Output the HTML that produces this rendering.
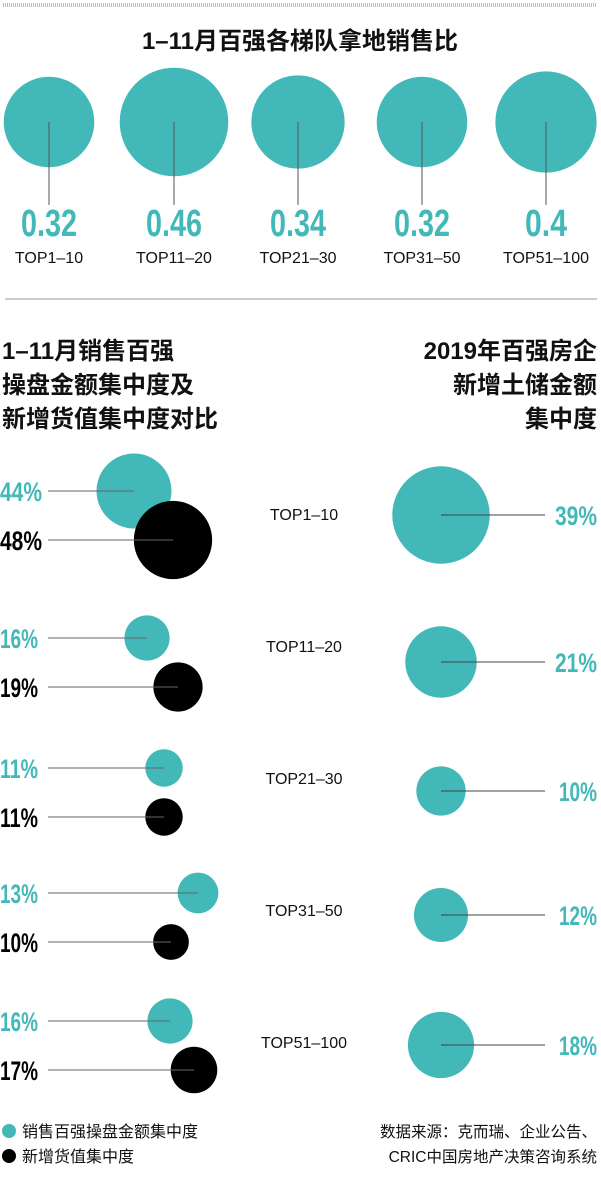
<!DOCTYPE html>
<html><head><meta charset="utf-8">
<style>
html,body{margin:0;padding:0;background:#fff;}
svg{display:block;}
.cn{font-family:"Liberation Sans","Noto Sans CJK SC",sans-serif;}
.num{font-family:"Liberation Sans",sans-serif;font-weight:bold;}
</style></head>
<body>
<svg id="chart" width="601" height="1180" viewBox="0 0 601 1180" xmlns="http://www.w3.org/2000/svg">
<line x1="3" y1="5" x2="597" y2="5" stroke="#bbb" stroke-width="4" stroke-dasharray="1,1"/>
<text x="300" y="49" text-anchor="middle" class="cn" font-size="24" font-weight="bold" fill="#111">1–11月百强各梯队拿地销售比</text>
<g id="top"></g>
<line x1="5" y1="299" x2="597" y2="299" stroke="#bbb" stroke-width="1.5"/>
<g class="cn" font-size="24" font-weight="bold" fill="#111">
<text x="2" y="359">1–11月销售百强</text>
<text x="2" y="393">操盘金额集中度及</text>
<text x="2" y="427">新增货值集中度对比</text>
</g>
<g class="cn" font-size="24" font-weight="bold" fill="#111" text-anchor="end">
<text x="597" y="359">2019年百强房企</text>
<text x="597" y="393">新增土储金额</text>
<text x="597" y="427">集中度</text>
</g>
<g id="bottom"></g>
<circle cx="9" cy="1131" r="7" fill="#42b8b8"/>
<text x="22" y="1137" class="cn" font-size="16" fill="#111">销售百强操盘金额集中度</text>
<circle cx="9" cy="1156" r="7" fill="#000"/>
<text x="22" y="1162" class="cn" font-size="16" fill="#111">新增货值集中度</text>
<g class="cn" font-size="15.5" fill="#111" text-anchor="end">
<text x="597" y="1137">数据来源：克而瑞、企业公告、</text>
<text x="597" y="1162">CRIC中国房地产决策咨询系统</text>
</g>
</svg>
<script>
const topCategories = ["TOP1–10","TOP11–20","TOP21–30","TOP31–50","TOP51–100"];
const topValues = [0.32,0.46,0.34,0.32,0.4];
const topValueLabels = ["0.32","0.46","0.34","0.32","0.4"];

const tierCategories = ["TOP1–10","TOP11–20","TOP21–30","TOP31–50","TOP51–100"];
const salesShare = [44,16,11,13,16];
const newValueShare = [48,19,11,10,17];
const landShare2019 = [39,21,10,12,18];

const NS = "http://www.w3.org/2000/svg";
const TEAL = "#42b8b8";
function mk(tag, attrs, parent, txt){
  const e = document.createElementNS(NS, tag);
  for (const k in attrs) e.setAttribute(k, attrs[k]);
  if (txt !== undefined) e.textContent = txt;
  parent.appendChild(e);
  return e;
}
function narrow(t){ return t.length*11 + (t.indexOf('%')>=0?9:0) - (t.indexOf('.')>=0?0:0); }
// top chart
const topG = document.getElementById('top');
const topX = i => [49,174,298,422,546][i];
const topR = v => 80*Math.sqrt(v);
const topCY = 122;
topCategories.forEach((c,i)=>{
  const cx = topX(i);
  const circ = mk('circle',{cx:cx,cy:topCY,r:topR(topValues[i]),fill:TEAL},topG);
  
  
  const ln = mk('line',{x1:cx,y1:topCY,x2:cx,y2:205,stroke:'#555','stroke-width':1},topG);
  
  
  const t = topValueLabels[i];
  const w = t.length*14;
  const v = mk('text',{x:cx,y:236,'text-anchor':'middle','class':'num','font-size':38,fill:TEAL,textLength:w,lengthAdjust:'spacingAndGlyphs'},topG,t);
  
  
  const l = mk('text',{x:cx,y:263,'text-anchor':'middle','class':'cn','font-size':16,fill:'#111'},topG,c);
  
  
});
// bottom chart
const botG = document.getElementById('bottom');
const rowY = [514,646,778,910,1042];
const tealRowY = [491,638,768,893,1021];
const rightRowY = [515,662,791,915,1045];
const salesCX = [134,147,164,198,170];
const newCX = [173,178,164,171,194];
const leftR = p => 5.65*Math.sqrt(p);
const rightR = p => 7.8*Math.sqrt(p);
function pctW(p){ return String(p).startsWith('1') ? 38 : 42; }
tierCategories.forEach((c,i)=>{
  const ty = tealRowY[i], by = tealRowY[i]+49;
  const sc = mk('circle',{cx:salesCX[i],cy:ty,r:leftR(salesShare[i]),fill:TEAL},botG);
  
  
  const sl = mk('line',{x1:48,y1:ty,x2:salesCX[i],y2:ty,stroke:'#666','stroke-width':1},botG);
  
  
  const st = mk('text',{x:0,y:ty+10,'class':'num','font-size':27,fill:TEAL,textLength:pctW(salesShare[i]),lengthAdjust:'spacingAndGlyphs'},botG,salesShare[i]+'%');
  
  
  const nc = mk('circle',{cx:newCX[i],cy:by,r:leftR(newValueShare[i]),fill:'#000'},botG);
  
  
  const nl = mk('line',{x1:48,y1:by,x2:newCX[i],y2:by,stroke:'#666','stroke-width':1},botG);
  
  
  const nt = mk('text',{x:0,y:by+10,'class':'num','font-size':27,fill:'#000',textLength:pctW(newValueShare[i]),lengthAdjust:'spacingAndGlyphs'},botG,newValueShare[i]+'%');
  
  
  const cl = mk('text',{x:304,y:rowY[i]+6,'text-anchor':'middle','class':'cn','font-size':16,fill:'#111'},botG,c);
  
  
  const ry = rightRowY[i];
  const rc = mk('circle',{cx:441,cy:ry,r:rightR(landShare2019[i]),fill:TEAL},botG);
  
  
  const rl = mk('line',{x1:441,y1:ry,x2:545,y2:ry,stroke:'#444','stroke-width':1},botG);
  
  
  const rt = mk('text',{x:597,y:ry+10,'text-anchor':'end','class':'num','font-size':27,fill:TEAL,textLength:pctW(landShare2019[i]),lengthAdjust:'spacingAndGlyphs'},botG,landShare2019[i]+'%');
  
  
});
</script>
</body></html>
